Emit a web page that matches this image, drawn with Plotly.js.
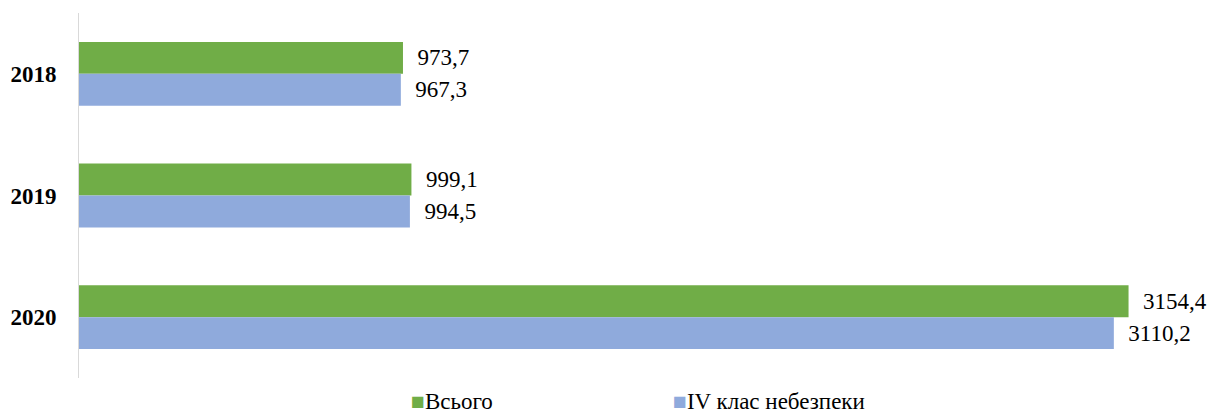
<!DOCTYPE html>
<html>
<head>
<meta charset="utf-8">
<script src="https://cdn.plot.ly/plotly-3.0.1.min.js"></script>
<style>html,body{margin:0;padding:0;background:#fff;}#chart{width:1223px;height:415px;}</style>
</head>
<body>
<div id="chart"></div>
<script>
const years = ['2018', '2019', '2020'];
const totalValues = [973.7, 999.1, 3154.4];
const class4Values = [967.3, 994.5, 3110.2];
const totalLabels = ['973,7', '999,1', '3154,4'];
const class4Labels = ['967,3', '994,5', '3110,2'];
const seriesNames = ['Всього', 'IV клас небезпеки'];
const seriesColors = ['#70AD47', '#8FAADC'];

const font = 'Liberation Serif, Times New Roman, serif';
const pad = '\u00a0\u00a0';

const traces = [
  {
    type: 'bar', orientation: 'h', name: seriesNames[0],
    y: years, x: totalValues, text: totalLabels,
    texttemplate: pad + '%{text}', textposition: 'outside', cliponaxis: false,
    textfont: {family: font, size: 23, color: '#000'},
    marker: {color: seriesColors[0]}, hoverinfo: 'x+y'
  },
  {
    type: 'bar', orientation: 'h', name: seriesNames[1],
    y: years, x: class4Values, text: class4Labels,
    texttemplate: pad + '%{text}', textposition: 'outside', cliponaxis: false,
    textfont: {family: font, size: 23, color: '#000'},
    marker: {color: seriesColors[1]}, hoverinfo: 'x+y'
  }
];

const legendX = [0.3015, 0.540];
const annotations = seriesNames.map((n, i) => ({
  xref: 'paper', yref: 'paper', x: legendX[i], y: 0,
  xanchor: 'left', yanchor: 'bottom', showarrow: false, borderpad: 0,
  text: '<span style="color:' + seriesColors[i] + '">■</span>' + n,
  font: {family: font, size: 23, color: '#000'}
}));

const layout = {
  width: 1223, height: 415,
  margin: {l: 79, r: 46, t: 13, b: 0},
  paper_bgcolor: '#fff', plot_bgcolor: '#fff',
  barmode: 'group', bargap: 0.475, bargroupgap: 0,
  font: {family: font, color: '#000'},
  xaxis: {range: [0, 3300], showgrid: false, zeroline: false, showline: false,
          showticklabels: false, ticks: ''},
  yaxis: {autorange: 'reversed', domain: [37 / 402, 1], showline: true, linecolor: '#D9D9D9', linewidth: 1,
          ticks: '', ticklabelstandoff: 17, showgrid: false, zeroline: false,
          tickfont: {family: font, size: 23, color: '#000', weight: 'bold'}},
  showlegend: false,
  annotations: annotations
};

Plotly.newPlot('chart', traces, layout, {displayModeBar: false, staticPlot: true});
</script>
</body>
</html>
